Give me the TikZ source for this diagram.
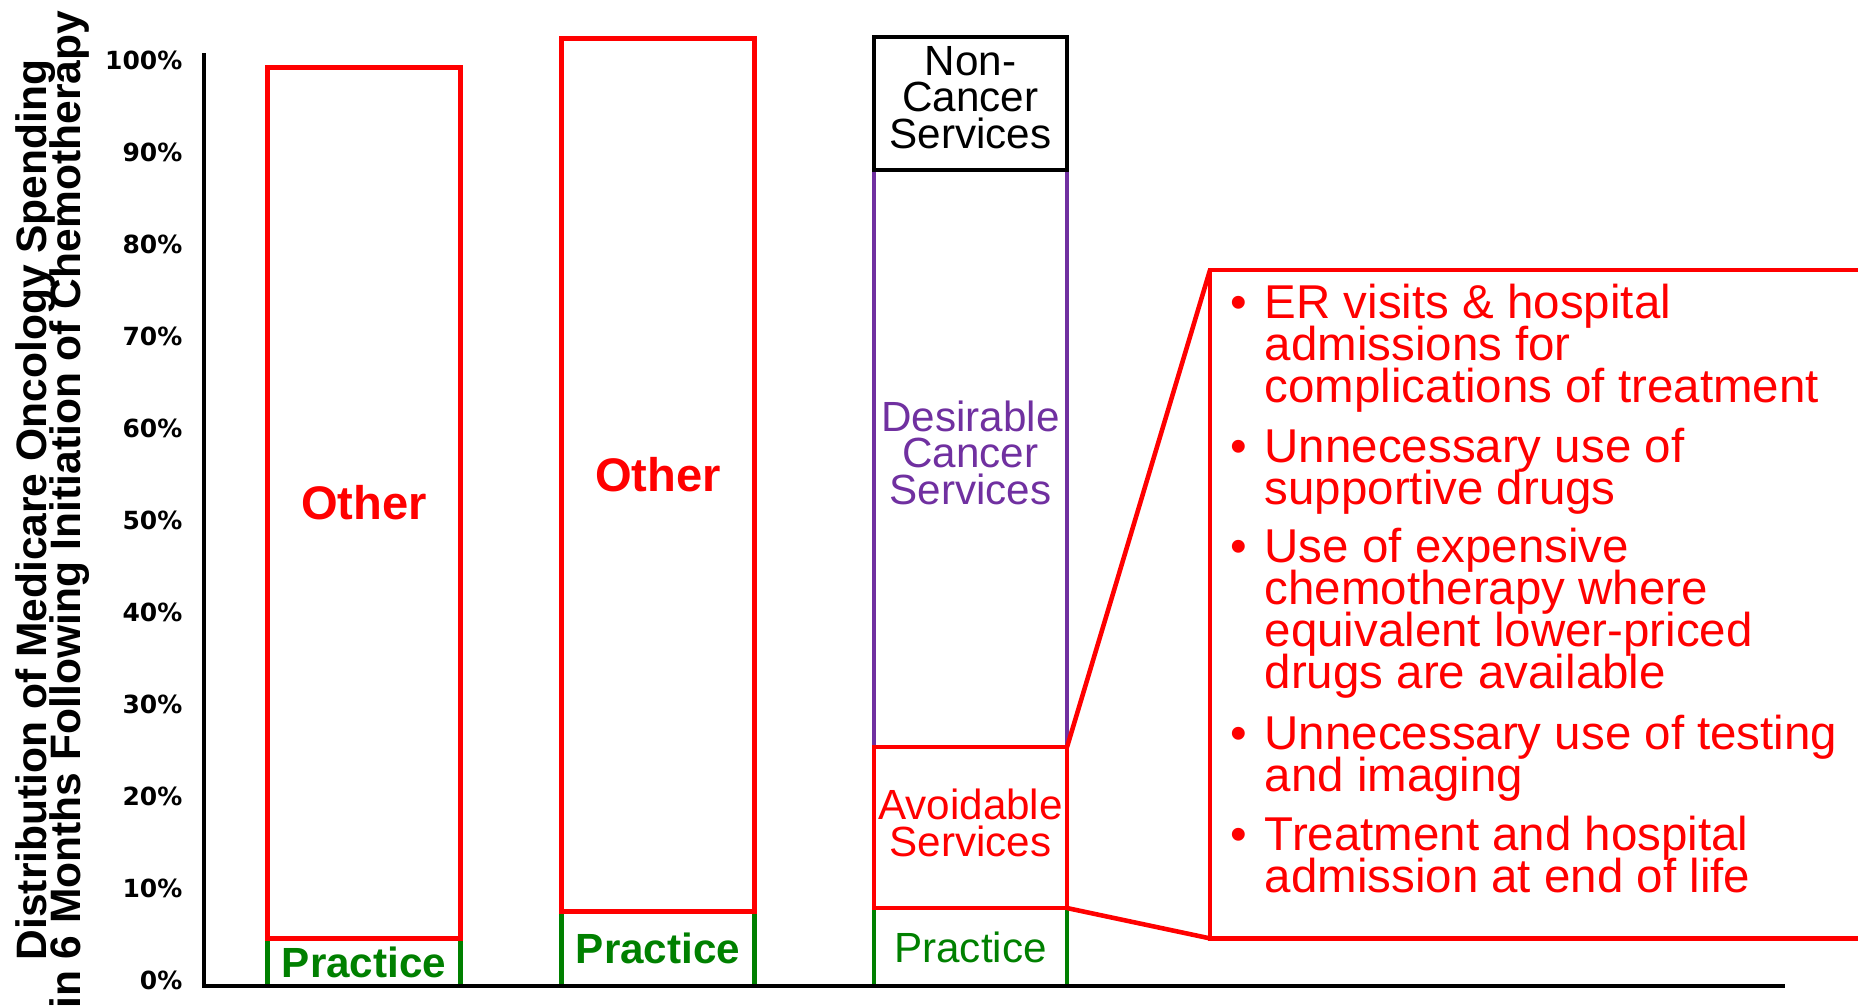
\documentclass[tikz,border=0pt]{standalone}
\usepackage{fontspec}
\setmainfont{Liberation Sans}
\newfontfamily\tickfont{DejaVu Sans}
\usepackage{xcolor}
\definecolor{barred}{HTML}{FF0000}
\definecolor{bargreen}{HTML}{008000}
\definecolor{barpurple}{HTML}{7030A0}
\lineskiplimit=-100pt
\lineskip=0pt
\begin{document}
\begin{tikzpicture}[x=0.01cm, y=-0.01cm,
	seg/.style={draw, line width=1.3pt, outer sep=0pt, inner sep=0pt, minimum width=1.93cm, align=center, font=\fontsize{12}{10.4}\selectfont},
	segtext/.style={inner sep=0pt, align=center, font=\fontsize{12}{10.4}\selectfont},
	boldlabel/.style={font=\bfseries\fontsize{#1}{14}\selectfont},
	ticklabel/.style={anchor=east, inner sep=0pt, font=\tickfont\bfseries\fontsize{7.1}{8}\selectfont},
	listitem/.style={anchor=north west, inner sep=0pt, align=left, text=barred, font=\fontsize{13.5}{11.95}\selectfont}]
	    		\useasboundingbox (0,0) rectangle (1858,1006);
	    		\node (ytitle) [rotate=90, inner sep=0pt, align=center, font=\bfseries\fontsize{12.1}{9.7}\selectfont] at (53,510) {Distribution of Medicare Oncology Spending\\in 6 Months Following Initiation of Chemotherapy};
	    		\node (t100) [ticklabel] at (183,60) {100\%};
	    		\node (t90) [ticklabel] at (183,152) {90\%};
	    		\node (t80) [ticklabel] at (183,244) {80\%};
	    		\node (t70) [ticklabel] at (183,336) {70\%};
	    		\node (t60) [ticklabel] at (183,428) {60\%};
	    		\node (t50) [ticklabel] at (183,520) {50\%};
	    		\node (t40) [ticklabel] at (183,612) {40\%};
	    		\node (t30) [ticklabel] at (183,704) {30\%};
	    		\node (t20) [ticklabel] at (183,796) {20\%};
	    		\node (t10) [ticklabel] at (183,888) {10\%};
	    		\node (t0) [ticklabel] at (183,980) {0\%};
	    		\node (b1prac) [seg, draw=bargreen, text=bargreen, minimum height=0.48cm, boldlabel=12] at (364,962) {Practice};
	    		\node (b1other) [seg, draw=barred, text=barred, minimum height=8.70cm, boldlabel=13.4] at (364,503) {Other};
	    		\node (b2prac) [seg, draw=bargreen, text=bargreen, minimum height=0.75cm, boldlabel=12] at (658,948.5) {Practice};
	    		\node (b2other) [seg, draw=barred, text=barred, minimum height=8.72cm, boldlabel=13.4] at (658,475) {Other};
	    		\node (b3prac) [seg, draw=bargreen, text=bargreen, minimum height=0.78cm] at (970.5,947) {Practice};
	    		\node (b3desire) [seg, draw=barpurple, minimum height=5.77cm] at (970.5,458.5) {};
	    		\node (b3avoid) [seg, draw=barred, minimum height=1.61cm] at (970.5,827.5) {};
	    		\node (b3other) [seg, draw=black, minimum height=1.33cm] at (970.5,103.5) {};
	    		\node (desiretext) [segtext, text=barpurple] at ([yshift=0.06cm]b3desire.center) {Desirable\\Cancer\\Services};
	    		\node (avoidtext) [segtext, text=barred] at ([yshift=0.045cm]b3avoid.center) {Avoidable\\Services};
	    		\node (othertext) [segtext, text=black] at ([yshift=0.06cm]b3other.center) {Non-\\Cancer\\Services};
	    		\node (callout) [draw=barred, line width=1.3pt, outer sep=0pt, inner sep=0pt, minimum width=7cm, minimum height=6.68cm, anchor=north west] at (1210,270) {};
	    		\draw[barred, line width=1.3pt] (b3avoid.north east) -- (callout.north west);
	    		\draw[barred, line width=1.3pt] (b3avoid.south east) -- (callout.south west);
	    		\node (itemER) [listitem] at (1264,283.5) {\llap{\textbullet\hspace{5pt}}ER visits \& hospital\\admissions for\\complications of treatment};
	    		\node (itemdrugs) [listitem] at (1264,427.5) {\llap{\textbullet\hspace{5pt}}Unnecessary use of\\supportive drugs};
	    		\node (itemchemo) [listitem] at (1264,527.5) {\llap{\textbullet\hspace{5pt}}Use of expensive\\chemotherapy where\\equivalent lower-priced\\drugs are available};
	    		\node (itemtest) [listitem] at (1264,714.5) {\llap{\textbullet\hspace{5pt}}Unnecessary use of testing\\and imaging};
	    		\node (itemlife) [listitem] at (1264,815.5) {\llap{\textbullet\hspace{5pt}}Treatment and hospital\\admission at end of life};
	    		\coordinate (yaxtop) at (204,53);
	    		\coordinate (origin) at (204,986);
	    		\coordinate (xaxend) at (1785,986);
	    		\draw[black, line width=1.3pt] (yaxtop) -- (origin) -- (xaxend);
			\end{tikzpicture}
\end{document}
